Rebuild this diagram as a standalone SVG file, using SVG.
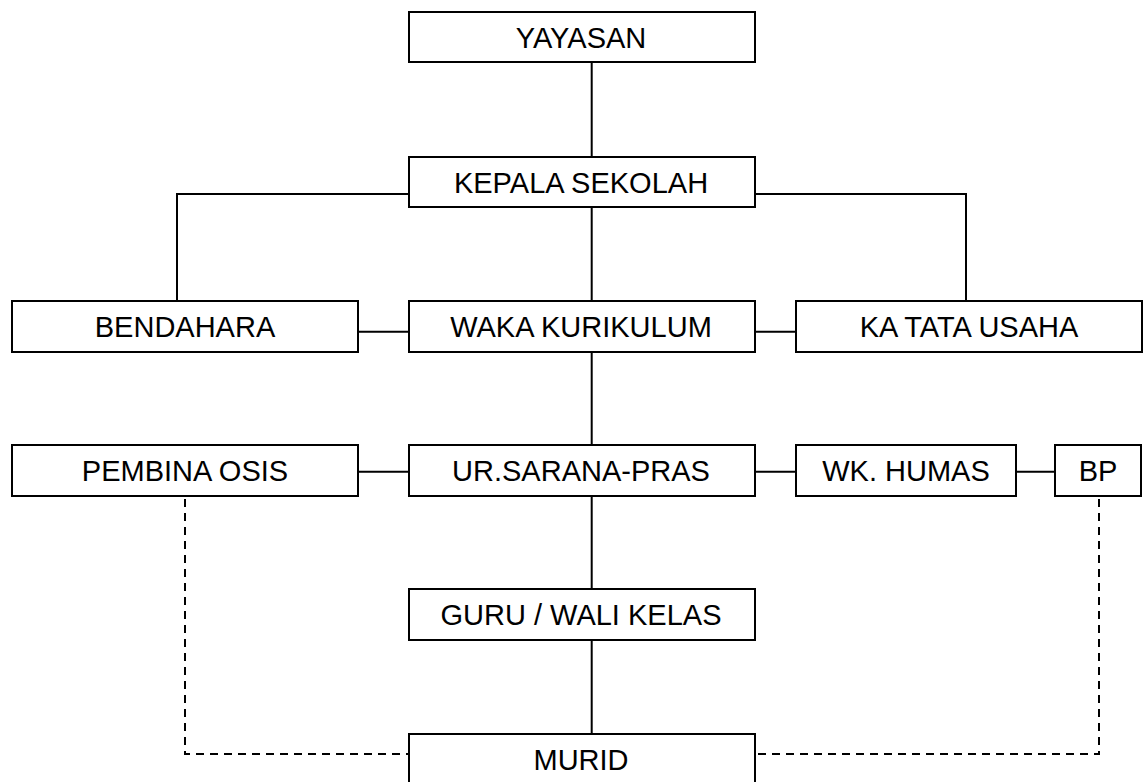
<svg xmlns="http://www.w3.org/2000/svg" width="1144" height="782" viewBox="0 0 1144 782">
<style>
.box{fill:#fff;stroke:#000;stroke-width:2}
.lbl{font-family:"Liberation Sans",Arial,sans-serif;font-size:29px;fill:#000;text-anchor:middle}
.ln{fill:none;stroke:#000;stroke-width:2}
.dash{fill:none;stroke:#000;stroke-width:2;stroke-dasharray:8 6}
</style>
<rect width="1144" height="782" fill="#fff"/>
<g id="connectors">
<path class="ln" d="M591.7 62V157M591.7 207V301M591.7 352V445M591.7 496V589M591.7 640V734"/>
<path class="ln" d="M409 194H177V301M755 194H966V301"/>
<path class="ln" d="M358 331.7H409M755 331.7H796"/>
<path class="ln" d="M358 471.7H409M755 471.7H796M1016 471.7H1055"/>
<path class="dash" d="M185 499V754H409"/>
<path class="dash" d="M1099 499V754H755"/>
</g>
<g id="yayasan"><rect class="box" x="409" y="12" width="346" height="50"/><text class="lbl" x="581" y="47.5">YAYASAN</text></g>
<g id="kepala"><rect class="box" x="409" y="157" width="346" height="50"/><text class="lbl" x="581" y="192.5">KEPALA SEKOLAH</text></g>
<g id="bendahara"><rect class="box" x="12" y="301" width="346" height="51"/><text class="lbl" x="185" y="336.5">BENDAHARA</text></g>
<g id="waka"><rect class="box" x="409" y="301" width="346" height="51"/><text class="lbl" x="581" y="336.5">WAKA KURIKULUM</text></g>
<g id="katata"><rect class="box" x="796" y="301" width="346" height="51"/><text class="lbl" x="969" y="336.5">KA TATA USAHA</text></g>
<g id="pembina"><rect class="box" x="12" y="445" width="346" height="51"/><text class="lbl" x="185" y="480.5">PEMBINA OSIS</text></g>
<g id="sarana"><rect class="box" x="409" y="445" width="346" height="51"/><text class="lbl" x="581" y="480.5">UR.SARANA-PRAS</text></g>
<g id="humas"><rect class="box" x="796" y="445" width="220" height="51"/><text class="lbl" x="906" y="480.5">WK. HUMAS</text></g>
<g id="bp"><rect class="box" x="1055" y="445" width="86" height="51"/><text class="lbl" x="1098" y="480.5">BP</text></g>
<g id="guru"><rect class="box" x="409" y="589" width="346" height="51"/><text class="lbl" x="581" y="624.5">GURU / WALI KELAS</text></g>
<g id="murid"><rect class="box" x="409" y="734" width="346" height="50"/><text class="lbl" x="581" y="769.5">MURID</text></g>
</svg>
